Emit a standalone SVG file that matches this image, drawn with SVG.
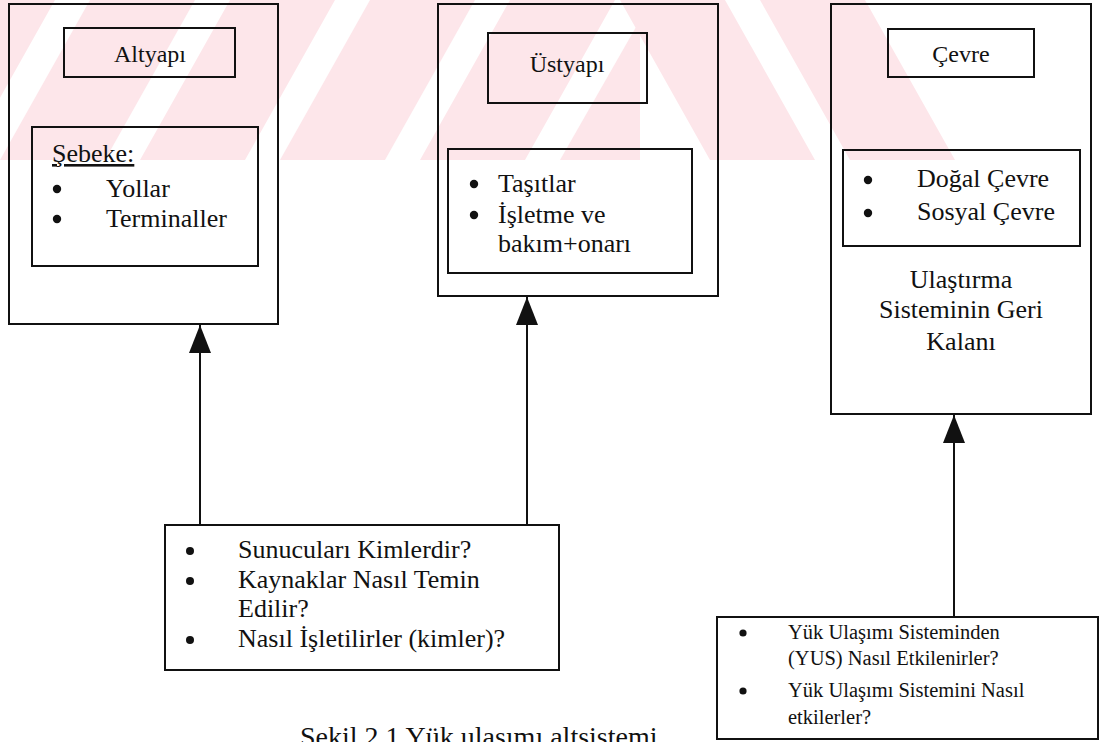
<svg xmlns="http://www.w3.org/2000/svg" width="1103" height="742" viewBox="0 0 1103 742">
  <defs>
    <style>
      .box { fill: none; stroke: #111; stroke-width: 2; }
      .txt { font-family: "Liberation Serif", "Times New Roman", serif; fill: #111; }
      .lbl { font-size: 24px; text-anchor: middle; }
      .big { font-size: 26px; }
      .sm { font-size: 20.5px; }
      .mid { text-anchor: middle; }
      .link { stroke: #111; stroke-width: 2; fill: none; }
      .dot { fill: #111; }
      .wm { fill: #fde6ea; }
    </style>
    <marker id="arrow" markerUnits="userSpaceOnUse" markerWidth="28" markerHeight="22" viewBox="0 0 28 22" refX="28" refY="11" orient="auto">
      <path d="M0,0 L28,11 L0,22 Z" fill="#111"/>
    </marker>
    <clipPath id="wmClip">
      <rect x="0" y="0" width="1103" height="160"/>
    </clipPath>
  </defs>

  <!-- faint striped background band -->
  <g id="watermark" clip-path="url(#wmClip)">
    <polygon class="wm" points="-140,160 -35,160 55,0 -50,0"/>
    <polygon class="wm" points="0,160 105,160 195,0 90,0"/>
    <polygon class="wm" points="140,160 245,160 335,0 230,0"/>
    <polygon class="wm" points="280,160 385,160 475,0 370,0"/>
    <polygon class="wm" points="420,160 525,160 615,0 510,0"/>
    <polygon class="wm" points="560,160 640,160 640,20"/>
    <polygon class="wm" points="620,0 725,0 815,160 710,160"/>
    <polygon class="wm" points="760,0 865,0 955,160 850,160"/>
  </g>

  <!-- connectors -->
  <g id="connectors">
    <line class="link" x1="200" y1="525" x2="200" y2="325" marker-end="url(#arrow)"/>
    <line class="link" x1="527" y1="525" x2="527" y2="297" marker-end="url(#arrow)"/>
    <line class="link" x1="954" y1="617" x2="954" y2="415" marker-end="url(#arrow)"/>
  </g>

  <!-- infrastructure -->
  <g id="altyapi">
    <rect class="box" x="9" y="4" width="269" height="320"/>
    <rect class="box" x="64" y="28" width="171" height="49"/>
    <text class="txt lbl" x="150" y="62">Altyapı</text>
    <rect class="box" x="32" y="127" width="226" height="139"/>
    <text class="txt big" x="52" y="162" text-decoration="underline">Şebeke:</text>
    <circle class="dot" cx="57" cy="189" r="4.2"/>
    <text class="txt big" x="106" y="197">Yollar</text>
    <circle class="dot" cx="57" cy="219" r="4.2"/>
    <text class="txt big" x="106" y="227">Terminaller</text>
  </g>

  <!-- superstructure -->
  <g id="ustyapi">
    <rect class="box" x="438" y="4" width="280" height="292"/>
    <rect class="box" x="488" y="33" width="159" height="70"/>
    <text class="txt lbl" x="567" y="72">Üstyapı</text>
    <rect class="box" x="448" y="149" width="244" height="124"/>
    <circle class="dot" cx="474" cy="184" r="4.2"/>
    <text class="txt big" x="498" y="192">Taşıtlar</text>
    <circle class="dot" cx="474" cy="215" r="4.2"/>
    <text class="txt big" x="498" y="223">İşletme ve</text>
    <text class="txt big" x="498" y="252">bakım+onarı</text>
  </g>

  <!-- environment -->
  <g id="cevre">
    <rect class="box" x="831" y="4" width="260" height="410"/>
    <rect class="box" x="888" y="29" width="146" height="48"/>
    <text class="txt lbl" x="961" y="62">Çevre</text>
    <rect class="box" x="843" y="150" width="237" height="96"/>
    <circle class="dot" cx="868" cy="180" r="4.2"/>
    <text class="txt big" x="917" y="187">Doğal Çevre</text>
    <circle class="dot" cx="868" cy="213" r="4.2"/>
    <text class="txt big" x="917" y="220">Sosyal Çevre</text>
    <text class="txt big mid" x="961" y="288">Ulaştırma</text>
    <text class="txt big mid" x="961" y="318">Sisteminin Geri</text>
    <text class="txt big mid" x="961" y="350">Kalanı</text>
  </g>

  <!-- providers -->
  <g id="sunucular">
    <rect class="box" x="165" y="525" width="394" height="145"/>
    <circle class="dot" cx="190" cy="551" r="4"/>
    <text class="txt big" x="238" y="558">Sunucuları Kimlerdir?</text>
    <circle class="dot" cx="190" cy="581" r="4"/>
    <text class="txt big" x="238" y="588">Kaynaklar Nasıl Temin</text>
    <text class="txt big" x="238" y="617">Edilir?</text>
    <circle class="dot" cx="190" cy="640" r="4"/>
    <text class="txt big" x="238" y="647">Nasıl İşletilirler (kimler)?</text>
  </g>

  <!-- effects -->
  <g id="etkiler">
    <rect class="box" x="717" y="617" width="381" height="122"/>
    <circle class="dot" cx="743" cy="633" r="3.6"/>
    <text class="txt sm" x="788" y="639">Yük Ulaşımı Sisteminden</text>
    <text class="txt sm" x="788" y="665">(YUS) Nasıl Etkilenirler?</text>
    <circle class="dot" cx="743" cy="691" r="3.6"/>
    <text class="txt sm" x="788" y="697">Yük Ulaşımı Sistemini Nasıl</text>
    <text class="txt sm" x="788" y="724">etkilerler?</text>
  </g>

  <!-- caption -->
  <text id="caption" class="txt" x="300" y="746" font-size="28">Şekil 2.1 Yük ulaşımı altsistemi</text>
</svg>
